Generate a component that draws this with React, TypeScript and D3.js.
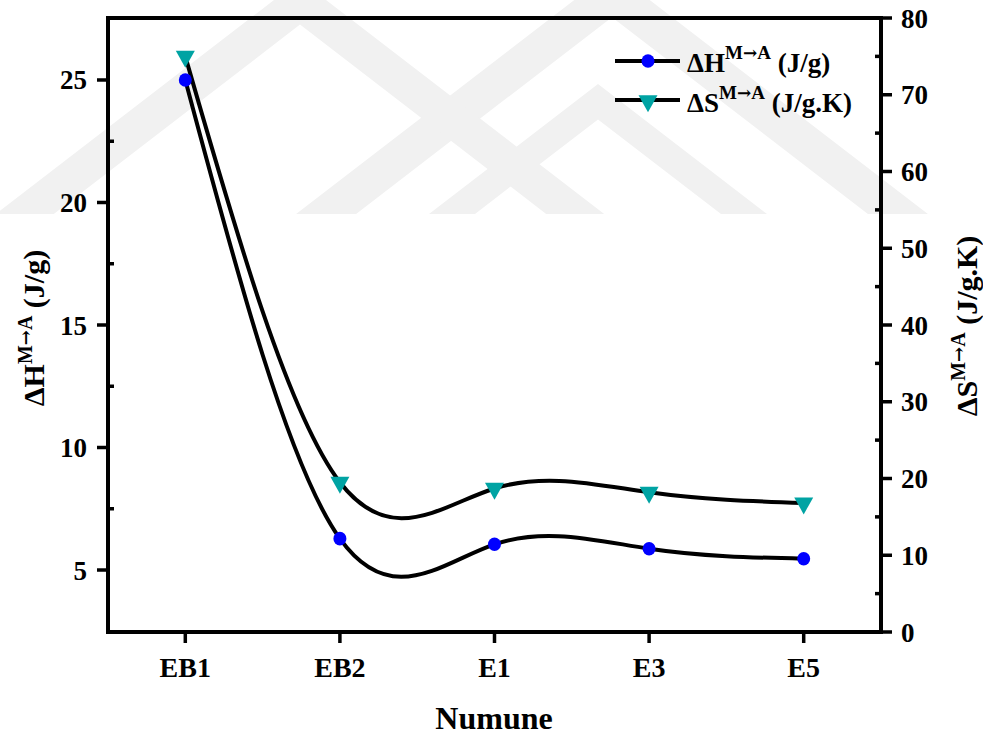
import React from "react";
import * as d3 from "d3";

// Sample series
const categories = ["EB1", "EB2", "E1", "E3", "E5"];
const enthalpy = [25.0, 6.28, 6.05, 5.87, 5.46]; // ΔH (J/g)
const entropy = [75.0, 19.5, 18.7, 18.2, 16.8]; // ΔS (J/g.K)

// Axis ticks
const leftTicks = [5, 10, 15, 20, 25];
const leftMinorTicks = [7.5, 12.5, 17.5, 22.5];
const rightTicks = [0, 10, 20, 30, 40, 50, 60, 70, 80];
const rightMinorTicks = [5, 15, 25, 35, 45, 55, 65, 75];

const W = 983;
const H = 735;
const plot = { left: 108, right: 881, top: 18, bottom: 632 };

const FONT = "'Liberation Serif', 'Times New Roman', serif";
const ARROW_FONT = "'DejaVu Serif', serif";
const CIRCLE_FILL = "#0000ff";
const TRI_FILL = "#00a3a3";
const WATERMARK = "#f1f1f1";

// Light grey chevrons in the page background
function chevron(ax: number, ay: number, k: number, t: number, by: number) {
  const span = k * (by - ay);
  const innerY = ay + t / k;
  return [
    [ax, ay],
    [ax + span, by],
    [ax + span - t, by],
    [ax, innerY],
    [ax - span + t, by],
    [ax - span, by],
  ]
    .map((p) => p.join(","))
    .join(" ");
}

const chevrons = [
  { ax: 612, ay: -29, t: 60 },
  { ax: 598, ay: 84, t: 46 },
  { ax: 300, ay: -20, t: 58 },
];

function downTriangle(cx: number, cy: number, w: number, h: number) {
  // positioned by centroid
  const top = cy - h / 3;
  const bottom = cy + (2 * h) / 3;
  return `M${cx - w / 2},${top}L${cx + w / 2},${top}L${cx},${bottom}Z`;
}

// Quantity symbol with an "M→A" superscript and a unit
function Label({ sym, unit, sup, shift }: { sym: string; unit: string; sup: number; shift: number }) {
  return (
    <>
      {sym}
      <tspan fontSize={sup} dy={-shift}>M</tspan>
      <tspan fontSize={sup * 0.9} fontFamily={ARROW_FONT}>→</tspan>
      <tspan fontSize={sup}>A</tspan>
      <tspan dy={shift}> {unit}</tspan>
    </>
  );
}

export default function App() {
  const x = d3.scaleLinear().domain([-0.5, 4.5]).range([plot.left, plot.right]);
  const yL = d3.scaleLinear().domain([2.47, 27.53]).range([plot.bottom, plot.top]);
  const yR = d3.scaleLinear().domain([0, 80]).range([plot.bottom, plot.top]);

  const lineH = d3
    .line<number>()
    .x((_, i) => x(i))
    .y((d) => yL(d))
    .curve(d3.curveNatural);
  const lineS = d3
    .line<number>()
    .x((_, i) => x(i))
    .y((d) => yR(d))
    .curve(d3.curveNatural);

  const tickW = 3.5;
  const axisW = 4;

  return (
    <svg
      width={W}
      height={H}
      style={{ position: "absolute", left: 0, top: 0, background: "#fff" }}
      fontFamily={FONT}
      fontWeight="bold"
    >
      <rect x={0} y={0} width={W} height={H} fill="#fff" />
      <g fill={WATERMARK}>
        <clipPath id="wm">
          <rect x={0} y={0} width={W} height={214} />
        </clipPath>
        <g clipPath="url(#wm)">
          {chevrons.map((c, i) => (
            <polygon key={i} points={chevron(c.ax, c.ay, 1.3, c.t, 214)} />
          ))}
        </g>
      </g>

      {/* curves */}
      <path d={lineH(enthalpy) || ""} fill="none" stroke="#000" strokeWidth={4} />
      <path d={lineS(entropy) || ""} fill="none" stroke="#000" strokeWidth={4} />

      {enthalpy.map((v, i) => (
        <ellipse key={"c" + i} cx={x(i)} cy={yL(v)} rx={6.5} ry={6.8} fill={CIRCLE_FILL} />
      ))}
      {entropy.map((v, i) => (
        <path key={"t" + i} d={downTriangle(x(i), yR(v), 19, 17)} fill={TRI_FILL} />
      ))}

      {/* frame */}
      <rect
        x={plot.left}
        y={plot.top}
        width={plot.right - plot.left}
        height={plot.bottom - plot.top}
        fill="none"
        stroke="#000"
        strokeWidth={axisW}
      />

      {/* left axis */}
      {leftTicks.map((t) => (
        <g key={"l" + t}>
          <line x1={plot.left - 11} x2={plot.left} y1={yL(t)} y2={yL(t)} stroke="#000" strokeWidth={tickW} />
          <text x={87} y={yL(t) + 9.5} textAnchor="end" fontSize={27}>
            {t}
          </text>
        </g>
      ))}
      {leftMinorTicks.map((t) => (
        <line key={"lm" + t} x1={plot.left} x2={plot.left + 6} y1={yL(t)} y2={yL(t)} stroke="#000" strokeWidth={tickW} />
      ))}

      {/* right axis */}
      {rightTicks.map((t) => (
        <g key={"r" + t}>
          <line x1={plot.right} x2={plot.right + 11} y1={yR(t)} y2={yR(t)} stroke="#000" strokeWidth={tickW} />
          <text x={901} y={yR(t) + 9.5} textAnchor="start" fontSize={27}>
            {t}
          </text>
        </g>
      ))}
      {rightMinorTicks.map((t) => (
        <line key={"rm" + t} x1={plot.right - 6} x2={plot.right} y1={yR(t)} y2={yR(t)} stroke="#000" strokeWidth={tickW} />
      ))}

      {/* bottom axis */}
      {categories.map((c, i) => (
        <g key={c}>
          <line x1={x(i)} x2={x(i)} y1={plot.bottom} y2={plot.bottom + 11} stroke="#000" strokeWidth={tickW} />
          <text x={x(i)} y={677} textAnchor="middle" fontSize={28}>
            {c}
          </text>
        </g>
      ))}

      {/* axis titles */}
      <text x={494} y={729} textAnchor="middle" fontSize={32}>
        Numune
      </text>
      <text transform="translate(44,328) rotate(-90)" textAnchor="middle" fontSize={30}>
        <Label sym="ΔH" unit="(J/g)" sup={20} shift={12} />
      </text>
      <text transform="translate(977,326) rotate(-90)" textAnchor="middle" fontSize={30}>
        <Label sym="ΔS" unit="(J/g.K)" sup={20} shift={12} />
      </text>

      {/* legend */}
      <g>
        <line x1={615} x2={680} y1={61} y2={61} stroke="#000" strokeWidth={4} />
        <ellipse cx={648} cy={61} rx={6.5} ry={6.8} fill={CIRCLE_FILL} />
        <text x={687} y={72} fontSize={27}>
          <Label sym="ΔH" unit="(J/g)" sup={19} shift={13} />
        </text>
        <line x1={615} x2={680} y1={100} y2={100} stroke="#000" strokeWidth={4} />
        <path d={downTriangle(648, 101, 19, 17)} fill={TRI_FILL} />
        <text x={687} y={112} fontSize={27}>
          <Label sym="ΔS" unit="(J/g.K)" sup={19} shift={13} />
        </text>
      </g>
    </svg>
  );
}
